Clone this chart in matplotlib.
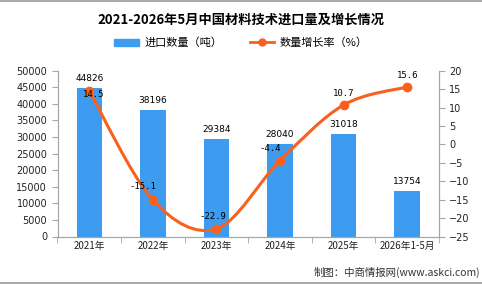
import matplotlib.pyplot as plt
from matplotlib.path import Path
from matplotlib.patches import PathPatch, Patch
from matplotlib.lines import Line2D
import numpy as np

plt.rcParams['font.family'] = ['Noto Sans CJK SC', 'DejaVu Sans']

years = ['2021年', '2022年', '2023年', '2024年', '2025年', '2026年1-5月']
qty = [44826, 38196, 29384, 28040, 31018, 13754]      # 进口数量（吨）
growth = [14.5, -15.1, -22.9, -4.4, 10.7, 15.6]       # 数量增长率（%）

bar_color = '#3d9cf0'
line_color = '#f8611d'
axis_color = '#a6a6a6'

fig = plt.figure(figsize=(4.82, 2.84), dpi=100)
ax = fig.add_axes([57.5 / 482, 47.5 / 284, (439 - 57.5) / 482, (236.5 - 70.7) / 284])
ax2 = ax.twinx()

x = np.arange(len(years))
ax.bar(x, qty, width=0.4, color=bar_color, zorder=2)
ax.set_xlim(-0.5, len(years) - 0.5)
ax.set_ylim(0, 50000)
ax.set_yticks(range(0, 50001, 5000))
ax2.set_ylim(-25, 20)
ax2.set_yticks(range(-25, 21, 5))

# smooth line through the growth points (cubic bezier segments)
verts = [(x[0], growth[0])]
codes = [Path.MOVETO]
n = len(x)
for i in range(n - 1):
    p0 = np.array([x[max(i - 1, 0)], growth[max(i - 1, 0)]], float)
    p1 = np.array([x[i], growth[i]], float)
    p2 = np.array([x[i + 1], growth[i + 1]], float)
    p3 = np.array([x[min(i + 2, n - 1)], growth[min(i + 2, n - 1)]], float)
    c1 = p1 + (p2 - p0) / 6
    c2 = p2 - (p3 - p1) / 6
    verts += [tuple(c1), tuple(c2), tuple(p2)]
    codes += [Path.CURVE4] * 3
ax2.add_patch(PathPatch(Path(verts, codes), facecolor='none', edgecolor=line_color,
                        lw=2.2, zorder=3))
ax2.plot(x, growth, 'o', color=line_color, ms=6, zorder=4)

# labels
for xi, v in zip(x, qty):
    ax.text(xi, v + 1500, str(v), ha='center', va='bottom', fontsize=6.5,
            family=['DejaVu Sans'])
offsets = [(0.07, -2.3), (-0.15, 2.4), (-0.05, 2.2), (-0.15, 2.0), (0, 2.0), (0, 2.0)]
for xi, v, (dx, dy) in zip(x, growth, offsets):
    ax2.text(xi + dx, v + dy, str(v), ha='center', va='bottom', fontsize=6.5,
             family=['DejaVu Sans Mono'], zorder=5)

for a in (ax, ax2):
    a.spines['top'].set_visible(False)
    for s in ('left', 'right', 'bottom'):
        a.spines[s].set_color(axis_color)
    a.tick_params(colors=axis_color, labelcolor='#222222', labelsize=7, length=4, width=0.8)
ax.set_xticks(x)
ax.set_xticklabels(years, fontsize=7)
ax.set_xticks(np.arange(-0.5, len(years), 1), minor=True)
ax.tick_params(axis='x', which='major', length=0)
ax.tick_params(axis='x', which='minor', length=4, color=axis_color)
for lab in ax.get_yticklabels() + ax2.get_yticklabels():
    lab.set_family(['DejaVu Sans'])

fig.text(0.5, 1 - 20 / 284, '2021-2026年5月中国材料技术进口量及增长情况', ha='center', va='center',
         fontsize=9.5, fontweight='bold')
handles = [Patch(color=bar_color), Line2D([], [], color=line_color, lw=2, marker='o', ms=5)]
fig.legend(handles, ['进口数量（吨）', '数量增长率（%）'], loc='center', ncol=2,
           bbox_to_anchor=(0.5, 1 - 43 / 284), frameon=False, fontsize=8,
           handlelength=2.2, columnspacing=2.5, handletextpad=0.5)
fig.text(480 / 482, 1 - 272 / 284, '制图：中商情报网(www.askci.com)', ha='right', va='center',
         fontsize=7.5, color='#333333')
fig.add_artist(Line2D([0, 1], [0.998, 0.998], color='#9a9a9a', lw=1.2, transform=fig.transFigure))
fig.add_artist(Line2D([0, 1], [0.004, 0.004], color='#9a9a9a', lw=1.2, transform=fig.transFigure))

fig.savefig('out.png', dpi=100)
